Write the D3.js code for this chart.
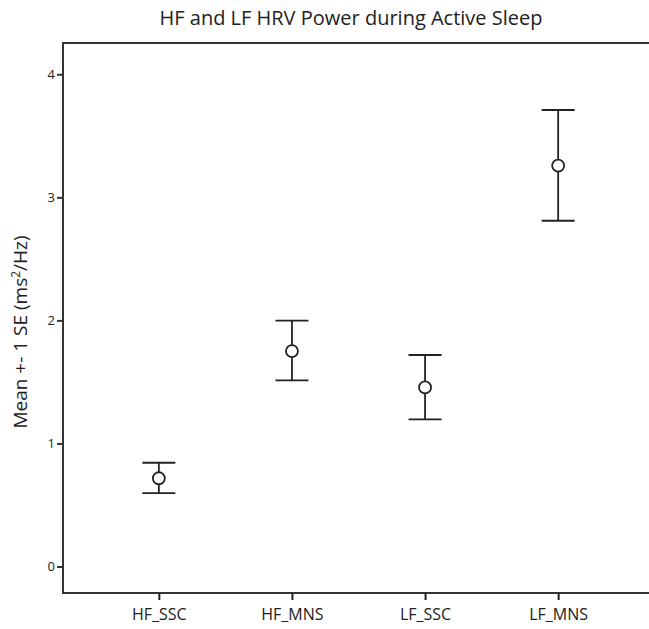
<html lang="en">
<head>
    <meta charset="UTF-8">
    <title>HF and LF HRV Power during Active Sleep</title>
    <script src="https://cdn.jsdelivr.net/npm/d3@7/dist/d3.min.js"></script>
    <style>
        body { margin: 0; background: #fff; }
        text { font-family: "Open Sans", "Noto Sans", sans-serif; fill: #222; }
    </style>
</head>
<body>
    <svg id="svg"></svg>

    <script>

        var WIDTH = 649;
        var HEIGHT = 629;

        // plot frame
        var LEFT = 63, TOP = 43, RIGHT = 654, BOTTOM = 593;

        var categories = ["HF_SSC", "HF_MNS", "LF_SSC", "LF_MNS"];
        var means = [0.717, 1.751, 1.455, 3.258];
        var lower = [0.596, 1.512, 1.196, 2.81];
        var upper = [0.843, 1.998, 1.719, 3.71];
        var yTicks = [0, 1, 2, 3, 4];

        var data = categories.map(function(c, i){
            return {cat: c, mean: means[i], lo: lower[i], hi: upper[i]};
        });

        var svg = d3.select('#svg')
                    .attr("width", WIDTH)
                    .attr("height", HEIGHT);

        var xScale = d3.scalePoint()
                        .domain(categories)
                        .range([LEFT, RIGHT])
                        .padding(0.72);

        var yScale = d3.scaleLinear()
                        .domain([0, 4])
                        .range([566.5, 74.3]);

        // frame
        svg.append("path")
            .attr("d", "M" + WIDTH + "," + TOP + "H" + LEFT + "V" + BOTTOM + "H" + WIDTH)
            .attr("fill", "none")
            .attr("stroke", "#333")
            .attr("stroke-width", 2);

        var yAxis = d3.axisLeft(yScale)
                        .tickValues(yTicks)
                        .tickSize(6)
                        .tickPadding(2)
                        .tickFormat(d3.format("d"));

        var gy = svg.append("g")
            .attr("transform", "translate(" + LEFT + ",0)")
            .call(yAxis);
        gy.select(".domain").remove();
        gy.selectAll("line").attr("stroke", "#333").attr("stroke-width", 2);
        gy.selectAll("text").attr("font-size", "13px").attr("fill", "#333")
            .attr("font-family", "'Open Sans', sans-serif");

        var xAxis = d3.axisBottom(xScale)
                        .tickSize(7)
                        .tickPadding(9);

        var gx = svg.append("g")
            .attr("transform", "translate(0," + BOTTOM + ")")
            .call(xAxis);
        gx.select(".domain").remove();
        gx.selectAll("line").attr("stroke", "#222").attr("stroke-width", 2);
        gx.selectAll("text").attr("font-size", "16px").attr("fill", "#222")
            .attr("font-family", "'Open Sans', sans-serif");

        // error bars
        var CAP = 16.5;
        var bars = svg.selectAll("g.bar")
            .data(data)
            .enter()
            .append("g")
            .attr("class", "bar")
            .attr("stroke", "#222")
            .attr("stroke-width", 1.8)
            .attr("fill", "none");

        bars.append("line")
            .attr("x1", function(d){ return xScale(d.cat); })
            .attr("x2", function(d){ return xScale(d.cat); })
            .attr("y1", function(d){ return yScale(d.hi); })
            .attr("y2", function(d){ return yScale(d.lo); });

        bars.append("line")
            .attr("x1", function(d){ return xScale(d.cat) - CAP; })
            .attr("x2", function(d){ return xScale(d.cat) + CAP; })
            .attr("y1", function(d){ return yScale(d.hi); })
            .attr("y2", function(d){ return yScale(d.hi); });

        bars.append("line")
            .attr("x1", function(d){ return xScale(d.cat) - CAP; })
            .attr("x2", function(d){ return xScale(d.cat) + CAP; })
            .attr("y1", function(d){ return yScale(d.lo); })
            .attr("y2", function(d){ return yScale(d.lo); });

        bars.append("circle")
            .attr("cx", function(d){ return xScale(d.cat); })
            .attr("cy", function(d){ return yScale(d.mean); })
            .attr("r", 6)
            .attr("fill", "#fff");

        // title
        svg.append("text")
            .attr("x", 351)
            .attr("y", 25)
            .attr("text-anchor", "middle")
            .attr("font-size", "20px")
            .text("HF and LF HRV Power during Active Sleep");

        // y label
        var yl = svg.append("text")
            .attr("transform", "translate(27," + 332 + ") rotate(-90)")
            .attr("text-anchor", "middle")
            .attr("font-size", "19px");
        yl.append("tspan").text("Mean +- 1 SE (ms");
        yl.append("tspan").attr("font-size", "12px").attr("dy", -7).text("2");
        yl.append("tspan").attr("dy", 7).text("/Hz)");

    </script>

</body>
</html>
